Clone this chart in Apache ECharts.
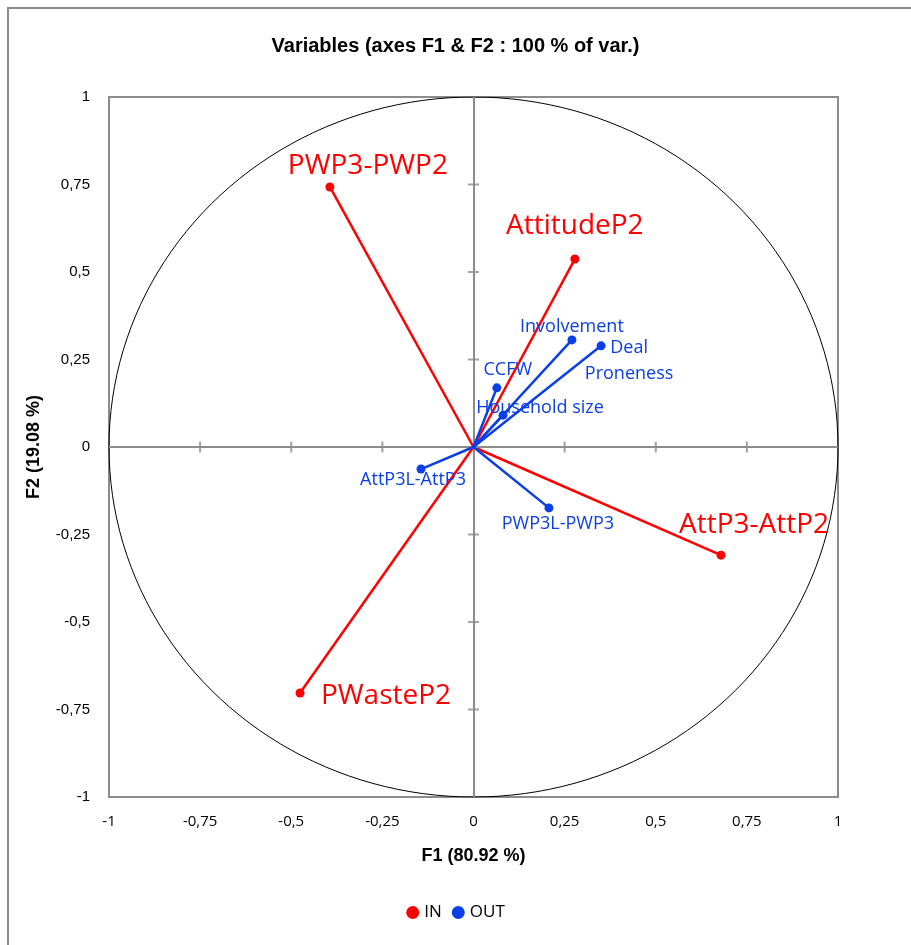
<!DOCTYPE html>
<html>
<head>
<meta charset="utf-8">
<script src="https://cdn.jsdelivr.net/npm/echarts@6/dist/echarts.min.js"></script>
<style>
html,body{margin:0;padding:0;background:#fff;}
#chart{width:911px;height:945px;}
</style>
</head>
<body>
<div id="chart"></div>
<script>
// variables on the correlation circle
var inNames = ['PWP3-PWP2', 'AttitudeP2', 'AttP3-AttP2', 'PWasteP2'];
var inF1 = [-0.394, 0.278, 0.679, -0.476];
var inF2 = [0.743, 0.537, -0.309, -0.703];

var outNames = ['Involvement', 'Deal\nProneness', 'CCFW', 'Household size', 'AttP3L-AttP3', 'PWP3L-PWP3'];
var outF1 = [0.270, 0.350, 0.064, 0.081, -0.144, 0.207];
var outF2 = [0.306, 0.289, 0.169, 0.091, -0.063, -0.174];

var tickValues = [-1, -0.75, -0.5, -0.25, 0, 0.25, 0.5, 0.75, 1];

// label offsets (px) so the texts sit like in the original
var inOffsets = [[38, -21], [0, -33], [33, -30], [86, 3]];
var outOffsets = [[0, -13], [28, 15], [11, -18], [37, -7], [-8, 11], [9, 16]];

var RED = '#ff0000';
var BLUE = '#0a3ee6';
var GREY = '#8c8c8c';

var chartDom = document.getElementById('chart');
var myChart = echarts.init(chartDom);

function fmt(v) {
    return String(v).replace('.', ',');
}

function vectorSeries(group, name, x, y, color, off, fontSize) {
    return {
        name: group,
        type: 'line',
        silent: true,
        z: group == 'IN' ? 4 : 5,
        lineStyle: { color: color, width: 2.5 },
        itemStyle: { color: color },
        symbol: 'circle',
        data: [
            { value: [0, 0], symbolSize: 0 },
            {
                value: [x, y],
                symbolSize: 9,
                label: {
                    show: true,
                    formatter: name,
                    position: 'inside',
                    offset: off,
                    color: color,
                    fontSize: fontSize,
                    fontFamily: 'Open Sans',
                    align: 'center',
                    verticalAlign: 'middle',
                    lineHeight: Math.round(fontSize * 1.45)
                }
            }
        ],
        animation: false
    };
}

var series = [];

// unit circle
var circle = [];
for (var a = 0; a <= 360; a += 2) {
    var r = a * Math.PI / 180;
    circle.push([Math.cos(r), Math.sin(r)]);
}
series.push({
    type: 'line',
    silent: true,
    data: circle,
    showSymbol: false,
    symbol: 'none',
    lineStyle: { color: '#000', width: 1 },
    z: 2,
    animation: false
});

// zero lines
series.push({
    type: 'line',
    silent: true,
    data: [],
    markLine: {
        silent: true,
        symbol: 'none',
        label: { show: false },
        lineStyle: { color: GREY, width: 2, type: 'solid' },
        data: [{ xAxis: 0 }, { yAxis: 0 }]
    },
    z: 1,
    animation: false
});

// tick marks on the zero lines
var innerTicks = tickValues.filter(function (v) { return v != 0 && Math.abs(v) != 1; });
series.push({
    type: 'scatter',
    silent: true,
    data: innerTicks.map(function (v) { return [v, 0]; }),
    symbol: 'rect',
    symbolSize: [2, 11],
    itemStyle: { color: GREY },
    z: 1,
    animation: false
});
series.push({
    type: 'scatter',
    silent: true,
    data: innerTicks.map(function (v) { return [0, v]; }),
    symbol: 'rect',
    symbolSize: [11, 2],
    itemStyle: { color: GREY },
    z: 1,
    animation: false
});

for (var i = 0; i < inNames.length; i++) {
    series.push(vectorSeries('IN', inNames[i], inF1[i], inF2[i], RED, inOffsets[i], 28));
}
for (var j = 0; j < outNames.length; j++) {
    series.push(vectorSeries('OUT', outNames[j], outF1[j], outF2[j], BLUE, outOffsets[j], 18));
}

var option = {
    backgroundColor: '#fff',
    animation: false,
    title: {
        text: 'Variables (axes F1 & F2 : 100 % of var.)',
        left: 'center',
        top: 31,
        textStyle: {
            fontFamily: 'Liberation Sans',
            fontWeight: 'bold',
            fontSize: 20,
            color: '#000'
        }
    },
    legend: {
        bottom: 19,
        left: 'center',
        itemWidth: 13,
        itemHeight: 13,
        itemGap: 10,
        icon: 'circle',
        data: [
            { name: 'IN', itemStyle: { color: RED } },
            { name: 'OUT', itemStyle: { color: BLUE } }
        ],
        textStyle: { fontFamily: 'Open Sans', fontSize: 17, color: '#000' }
    },
    grid: {
        left: 109,
        right: 73,
        top: 97,
        bottom: 148,
        show: true,
        borderColor: GREY,
        borderWidth: 2,
        containLabel: false
    },
    xAxis: {
        type: 'value',
        min: -1,
        max: 1,
        interval: 0.25,
        name: 'F1 (80.92 %)',
        nameLocation: 'middle',
        nameGap: 50,
        nameTextStyle: { fontFamily: 'Liberation Sans', fontWeight: 'bold', fontSize: 18, color: '#000' },
        axisLine: { show: false, onZero: false },
        axisTick: { show: false },
        splitLine: { show: false },
        axisLabel: {
            formatter: fmt,
            margin: 17,
            fontFamily: 'Open Sans',
            fontSize: 15,
            color: '#000'
        }
    },
    yAxis: {
        type: 'value',
        min: -1,
        max: 1,
        interval: 0.25,
        name: 'F2 (19.08 %)',
        nameLocation: 'middle',
        nameGap: 66,
        nameRotate: 90,
        nameTextStyle: { fontFamily: 'Liberation Sans', fontWeight: 'bold', fontSize: 18, color: '#000' },
        axisLine: { show: false, onZero: false },
        axisTick: { show: false },
        splitLine: { show: false },
        axisLabel: {
            formatter: fmt,
            margin: 19,
            fontFamily: 'Liberation Sans',
            fontSize: 15,
            color: '#000'
        }
    },
    graphic: [{
        type: 'rect',
        silent: true,
        shape: { x: 8, y: 8, width: 1000, height: 1000 },
        style: { fill: 'none', stroke: GREY, lineWidth: 2 },
        z: -1
    }],
    series: series
};

option && myChart.setOption(option);
window.addEventListener('resize', () => {
    myChart.resize();
});
</script>
</body>
</html>
